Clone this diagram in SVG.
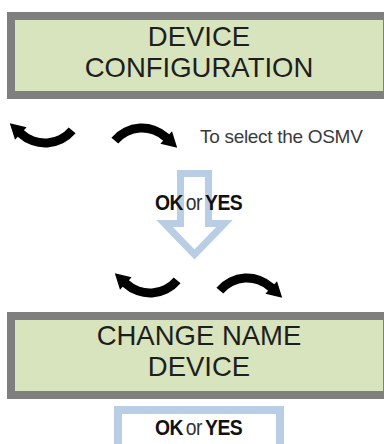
<svg xmlns="http://www.w3.org/2000/svg" width="384" height="444" viewBox="0 0 384 444">
<style>
.frame{fill:#7f7f7f}
.lcd{fill:#d7e4bd}
.lcdtxt{font-family:"Liberation Sans",Arial,sans-serif;font-size:27.5px;fill:#1e1e1e;text-anchor:middle}
.curl{fill:#000}
.ok{font-family:"Liberation Sans",Arial,sans-serif;font-size:21.5px;fill:#111;text-anchor:middle;letter-spacing:-0.6px;word-spacing:-2px}
.b{font-weight:bold}
.or{font-weight:normal;fill:#333}
.hint{font-family:"Liberation Sans",Arial,sans-serif;font-size:19px;fill:#3a3a3a;letter-spacing:-0.3px}
.blue{fill:none;stroke:#b9cde5;stroke-width:7;stroke-linejoin:miter}
</style>
<defs>
<path id="curlL" class="curl" d="M68.7 127.4 A31 31 0 0 1 23.9 130.2 L26.6 127.2 L9.8 123.2 L15 139.7 L17.7 136.7 A40 40 0 0 0 75.6 133.2 Z"/>
</defs>
<rect width="384" height="444" fill="#fff"/>
<g id="connectors">
<polygon class="blue" points="180.5,173.5 208.5,173.5 208.5,223.5 224.5,223.5 194.5,254.5 164.5,223.5 180.5,223.5"/>
</g>
<g id="box-device-configuration">
<rect class="frame" x="7" y="12" width="378" height="87"/>
<rect class="lcd" x="15" y="20" width="368" height="71"/>
<text class="lcdtxt" x="199" y="46">DEVICE</text>
<text class="lcdtxt" x="199" y="77">CONFIGURATION</text>
</g>
<g id="select-arrows-top">
<use href="#curlL"/>
<use href="#curlL" transform="rotate(180 93.5 135.5)"/>
</g>
<g id="hint">
<text class="hint" x="200" y="143">To select the OSMV</text>
</g>
<g id="ok-yes-1">
<text class="ok" transform="translate(198.5 210) scale(0.9 1)"><tspan class="b">OK</tspan><tspan class="or"> or </tspan><tspan class="b">YES</tspan></text>
</g>
<g id="select-arrows-bottom" transform="translate(105 150)">
<use href="#curlL"/>
<use href="#curlL" transform="rotate(180 93.5 135.5)"/>
</g>
<g id="box-change-name">
<rect class="frame" x="7" y="312" width="378" height="87"/>
<rect class="lcd" x="15" y="320" width="368" height="71"/>
<text class="lcdtxt" x="199" y="345">CHANGE NAME</text>
<text class="lcdtxt" x="199" y="376">DEVICE</text>
</g>
<g id="ok-yes-2">
<rect x="118" y="410" width="162" height="40" fill="#fff" stroke="#b9cde5" stroke-width="8"/>
<text class="ok" transform="translate(198.5 435) scale(0.9 1)"><tspan class="b">OK</tspan><tspan class="or"> or </tspan><tspan class="b">YES</tspan></text>
</g>
</svg>
